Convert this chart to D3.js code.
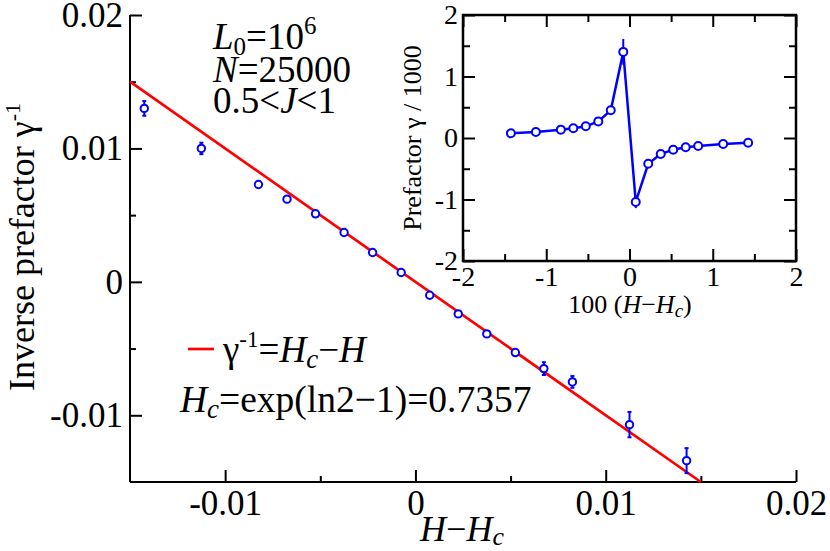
<!DOCTYPE html>
<html>
<head>
<meta charset="utf-8">
<script src="https://cdn.jsdelivr.net/npm/d3@7/dist/d3.min.js"></script>
<style>
  body { margin: 0; background: #fff; }
  text { font-family: "Liberation Serif", "Times New Roman", serif; fill: #000; }
  .axis path, .axis line { stroke: #000; stroke-width: 2; }
</style>
</head>
<body>
<svg id="plotCanvas" width="830" height="551"></svg>
<script>
// main panel: inverse prefactor vs H-Hc
var mainDH  = [-0.01425, -0.01125, -0.00825, -0.00675, -0.00525, -0.00375, -0.00225, -0.00075,
                0.00075,  0.00225,  0.00375,  0.00525,  0.00675,  0.00825,  0.01125,  0.01425];
var mainInv = [ 0.0130,  0.0100,  0.0073,  0.0062,  0.0051,  0.0037,  0.0022,  0.0007,
               -0.0010, -0.0024, -0.0039, -0.0053, -0.0065, -0.0075, -0.0107, -0.0134];
var mainErr = [ 0.00055, 0.00043, 0.0002, 0.0002, 0.00015, 0.00015, 0.00012, 0.0001,
                0.0001,  0.00012, 0.00015, 0.0002, 0.00048, 0.00044, 0.00095, 0.00094];
var fitDH = [-0.015, 0.015];   // gamma^-1 = Hc - H

var mainMajor = [-0.01, 0, 0.01, 0.02];
var mainMinor = [-0.005, 0.005, 0.015];

// inset: prefactor / 1000 vs 100 (H-Hc)
var insetX   = [-1.425, -1.125, -0.825, -0.675, -0.525, -0.375, -0.225, -0.075,
                 0.075,  0.225,  0.375,  0.525,  0.675,  0.825,  1.125,  1.425];
var insetY   = [ 0.076,  0.098,  0.136,  0.158,  0.19,   0.27,   0.45,   1.40,
                -1.04,  -0.42,  -0.26,  -0.19,  -0.15,  -0.13,  -0.098, -0.076];
var insetErr = [ 0.01, 0.01, 0.01, 0.01, 0.01, 0.015, 0.03, 0.21,
                 0.10, 0.03, 0.015, 0.01, 0.01, 0.01, 0.01, 0.01];
var insetMajor = [-2, -1, 0, 1, 2];
var insetMinor = [-1.5, -0.5, 0.5, 1.5];

var canvas = d3.select("#plotCanvas");
var fmt = function(d) { return String(+d.toFixed(3)); };

var x = d3.scaleLinear().domain([-0.015, 0.02]).range([130, 796]);
var y = d3.scaleLinear().domain([-0.015, 0.02]).range([482, 15]);

// main axes (left and bottom only, ticks inward)
canvas.append("g").attr("class", "axis").attr("transform", "translate(0,482)")
    .call(d3.axisBottom(x).tickValues(mainMajor).tickSize(-12).tickPadding(8).tickFormat(fmt))
    .call(function(g) { g.select(".domain").attr("d", "M130,0H796"); })
    .selectAll("text").attr("font-size", "35px").attr("font-family", "Liberation Serif");
canvas.append("g").attr("class", "axis").attr("transform", "translate(0,482)")
    .call(d3.axisBottom(x).tickValues(mainMinor).tickSize(-6).tickFormat(""))
    .select(".domain").remove();

canvas.append("g").attr("class", "axis").attr("transform", "translate(130,0)")
    .call(d3.axisLeft(y).tickValues(mainMajor).tickSize(-12).tickPadding(7).tickFormat(fmt))
    .call(function(g) { g.select(".domain").attr("d", "M0,15V482"); })
    .selectAll("text").attr("font-size", "35px").attr("font-family", "Liberation Serif");
canvas.append("g").attr("class", "axis").attr("transform", "translate(130,0)")
    .call(d3.axisLeft(y).tickValues(mainMinor).tickSize(-6).tickFormat(""))
    .select(".domain").remove();

// fit line
canvas.append("line")
    .attr("x1", x(fitDH[0])).attr("y1", y(-fitDH[0]))
    .attr("x2", x(fitDH[1])).attr("y2", y(-fitDH[1]))
    .attr("stroke", "#ff0000").attr("stroke-width", 2.7);

// error bars + points
var mainPts = mainDH.map(function(d, i) { return {x: d, y: mainInv[i], e: mainErr[i]}; });
var eb = canvas.append("g").attr("stroke", "#0000ff").attr("stroke-width", 2);
eb.selectAll("line.bar").data(mainPts).enter().append("line")
    .attr("x1", function(d) { return x(d.x); }).attr("x2", function(d) { return x(d.x); })
    .attr("y1", function(d) { return y(d.y + d.e); }).attr("y2", function(d) { return y(d.y - d.e); });
eb.selectAll("line.capt").data(mainPts).enter().append("line")
    .attr("x1", function(d) { return x(d.x) - 2; }).attr("x2", function(d) { return x(d.x) + 2; })
    .attr("y1", function(d) { return y(d.y + d.e); }).attr("y2", function(d) { return y(d.y + d.e); });
eb.selectAll("line.capb").data(mainPts).enter().append("line")
    .attr("x1", function(d) { return x(d.x) - 2; }).attr("x2", function(d) { return x(d.x) + 2; })
    .attr("y1", function(d) { return y(d.y - d.e); }).attr("y2", function(d) { return y(d.y - d.e); });
canvas.append("g").selectAll("circle").data(mainPts).enter().append("circle")
    .attr("cx", function(d) { return x(d.x); })
    .attr("cy", function(d) { return y(d.y); })
    .attr("r", 3.7)
    .attr("fill", "#fff").attr("stroke", "#0000ff").attr("stroke-width", 2);

// axis titles
var yt = canvas.append("text").attr("transform", "translate(34,247) rotate(-90)")
    .attr("text-anchor", "middle").attr("font-size", "36px");
yt.append("tspan").text("Inverse prefactor \u03b3");
yt.append("tspan").attr("dy", -14).attr("font-size", "22px").text("-1");

var xt = canvas.append("text").attr("x", 462).attr("y", 541)
    .attr("text-anchor", "middle").attr("font-size", "36px");
xt.append("tspan").attr("font-style", "italic").text("H");
xt.append("tspan").text("\u2212");
xt.append("tspan").attr("font-style", "italic").text("H");
xt.append("tspan").attr("font-style", "italic").attr("font-size", "26px").attr("dy", 4).text("c");

// annotation block
var t1 = canvas.append("text").attr("x", 213).attr("y", 49).attr("font-size", "37px");
t1.append("tspan").attr("font-style", "italic").text("L");
t1.append("tspan").attr("font-size", "25px").attr("dy", 6).text("0");
t1.append("tspan").attr("dy", -6).text("=10");
t1.append("tspan").attr("font-size", "25px").attr("dy", -15).text("6");

var t2 = canvas.append("text").attr("x", 213).attr("y", 82).attr("font-size", "37px");
t2.append("tspan").attr("font-style", "italic").text("N");
t2.append("tspan").text("=25000");

var t3 = canvas.append("text").attr("x", 213).attr("y", 113).attr("font-size", "37px");
t3.append("tspan").text("0.5<");
t3.append("tspan").attr("font-style", "italic").text("J");
t3.append("tspan").text("<1");

// legend
canvas.append("line").attr("x1", 188).attr("x2", 214).attr("y1", 349).attr("y2", 349)
    .attr("stroke", "#ff0000").attr("stroke-width", 2.7);
var lg = canvas.append("text").attr("x", 223).attr("y", 362).attr("font-size", "37px");
lg.append("tspan").text("\u03b3");
lg.append("tspan").attr("font-size", "23px").attr("dy", -15).text("-1");
lg.append("tspan").attr("dy", 15).text("=");
lg.append("tspan").attr("font-style", "italic").text("H");
lg.append("tspan").attr("font-style", "italic").attr("font-size", "27px").attr("dy", 6).text("c");
lg.append("tspan").attr("dy", -6).text("\u2212");
lg.append("tspan").attr("font-style", "italic").text("H");

var hc = canvas.append("text").attr("x", 180).attr("y", 412).attr("font-size", "37.5px");
hc.append("tspan").attr("font-style", "italic").text("H");
hc.append("tspan").attr("font-style", "italic").attr("font-size", "27px").attr("dy", 6).text("c");
hc.append("tspan").attr("dy", -6).text("=exp(ln2\u22121)=0.7357");

// inset
var ix = d3.scaleLinear().domain([-2, 2]).range([463, 796]);
var iy = d3.scaleLinear().domain([-2, 2]).range([261, 15]);

canvas.append("rect").attr("x", 463).attr("y", 15).attr("width", 333).attr("height", 246)
    .attr("fill", "#fff").attr("stroke", "#000").attr("stroke-width", 2.5);

var insetAxis = function(axis, tx, ty, vals, size, labels) {
    var a = axis.tickValues(vals).tickSize(-size).tickPadding(5)
        .tickFormat(labels ? fmt : "");
    var g = canvas.append("g").attr("class", "axis").attr("transform", "translate(" + tx + "," + ty + ")")
        .call(a);
    g.select(".domain").remove();
    g.selectAll("line").attr("stroke-width", 2.5);
    g.selectAll("text").attr("font-size", "28px").attr("font-family", "Liberation Serif");
    return g;
};
insetAxis(d3.axisBottom(ix), 0, 261, insetMajor, 12, true);
insetAxis(d3.axisBottom(ix), 0, 261, insetMinor, 7, false);
insetAxis(d3.axisTop(ix), 0, 15, insetMajor, 12, false);
insetAxis(d3.axisTop(ix), 0, 15, insetMinor, 7, false);
insetAxis(d3.axisLeft(iy), 463, 0, insetMajor, 12, true);
insetAxis(d3.axisLeft(iy), 463, 0, insetMinor, 7, false);
insetAxis(d3.axisRight(iy), 796, 0, insetMajor, 12, false);
insetAxis(d3.axisRight(iy), 796, 0, insetMinor, 7, false);

var insetPts = insetX.map(function(d, i) { return {x: d, y: insetY[i], e: insetErr[i]}; });
canvas.append("path").datum(insetPts)
    .attr("d", d3.line().x(function(d) { return ix(d.x); }).y(function(d) { return iy(d.y); }))
    .attr("fill", "none").attr("stroke", "#0000ff").attr("stroke-width", 2.5);
var ieb = canvas.append("g").attr("stroke", "#0000ff").attr("stroke-width", 2);
ieb.selectAll("line").data(insetPts).enter().append("line")
    .attr("x1", function(d) { return ix(d.x); }).attr("x2", function(d) { return ix(d.x); })
    .attr("y1", function(d) { return iy(d.y + d.e); }).attr("y2", function(d) { return iy(d.y - d.e); });
canvas.append("g").selectAll("circle").data(insetPts).enter().append("circle")
    .attr("cx", function(d) { return ix(d.x); })
    .attr("cy", function(d) { return iy(d.y); })
    .attr("r", 4)
    .attr("fill", "#fff").attr("stroke", "#0000ff").attr("stroke-width", 2);

var iyt = canvas.append("text").attr("transform", "translate(421,138) rotate(-90)")
    .attr("text-anchor", "middle").attr("font-size", "26px")
    .text("Prefactor \u03b3 / 1000");

var ixt = canvas.append("text").attr("x", 630).attr("y", 313)
    .attr("text-anchor", "middle").attr("font-size", "26px");
ixt.append("tspan").text("100 (");
ixt.append("tspan").attr("font-style", "italic").text("H");
ixt.append("tspan").text("\u2212");
ixt.append("tspan").attr("font-style", "italic").text("H");
ixt.append("tspan").attr("font-style", "italic").attr("font-size", "19px").attr("dy", 4).text("c");
ixt.append("tspan").attr("dy", -4).text(")");
</script>
</body>
</html>
